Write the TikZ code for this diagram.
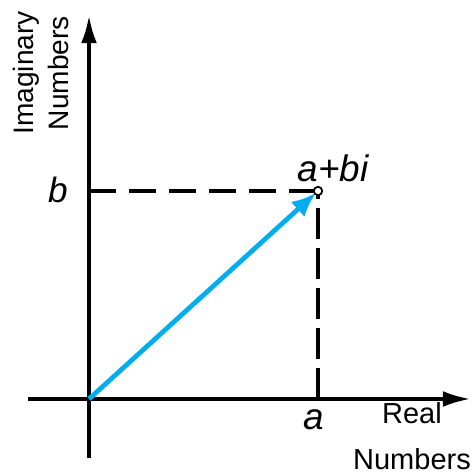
\documentclass[tikz,border=0pt]{standalone}
\usepackage{fontspec}
\setmainfont{Liberation Sans}
\usetikzlibrary{arrows.meta}
\definecolor{cxblue}{HTML}{00AEEF}

\begin{document}
\begin{tikzpicture}[x=0.02cm, y=0.02cm,
    axis/.style={line width=2.3pt, -{Latex[length=16pt, width=9pt]}},
    guide/.style={line width=2.3pt},
    lbl/.style={inner sep=0pt, font=\fontsize{16}{20}\selectfont, align=center},
    sym/.style={inner sep=0pt, font=\fontsize{20}{24}\selectfont\itshape}]
  \useasboundingbox (0,0) rectangle (472,474);
  % axes
  \coordinate (xl) at (28,75);
  \coordinate (xr) at (471,75);
  \coordinate (yb) at (89,16);
  \coordinate (yt) at (89,459);
  \coordinate (O) at (89,75);
  \coordinate (P) at (318,283);
  \coordinate (Pb) at (89,283);
  \coordinate (Pa) at (318,75);
  \draw[axis] (xl) -- (xr);
  \draw[axis] (yb) -- (yt);
  % projections
  \draw[guide, dash pattern=on 15.4pt off 7.4pt] (Pb) -- (P);
  \draw[guide, dash pattern=on 17.6pt off 5.2pt] (Pa) -- (P);
  % vector
  \draw[line width=2.7pt, cxblue, shorten >=1.5pt, -{Latex[length=14pt, width=11.5pt]}] (O) -- (P);
  \draw[line width=1pt, fill=white] (P) circle (2.4pt);
  % labels
  \node[sym] (b) at (58,284.5) {b};
  \node[sym, font=\fontsize{21}{24}\selectfont\itshape] (a) at (314,54) {a};
  \node[sym, font=\fontsize{21}{24}\selectfont\itshape] (z) at (333,306) {a+bi};
  \node[lbl, rotate=90] (im) at (41,401) {Imaginary\\Numbers};
  \node[lbl, font=\fontsize{16.5}{26.5}\selectfont] (re) at (412,38) {Real\\Numbers};
\end{tikzpicture}
\end{document}
